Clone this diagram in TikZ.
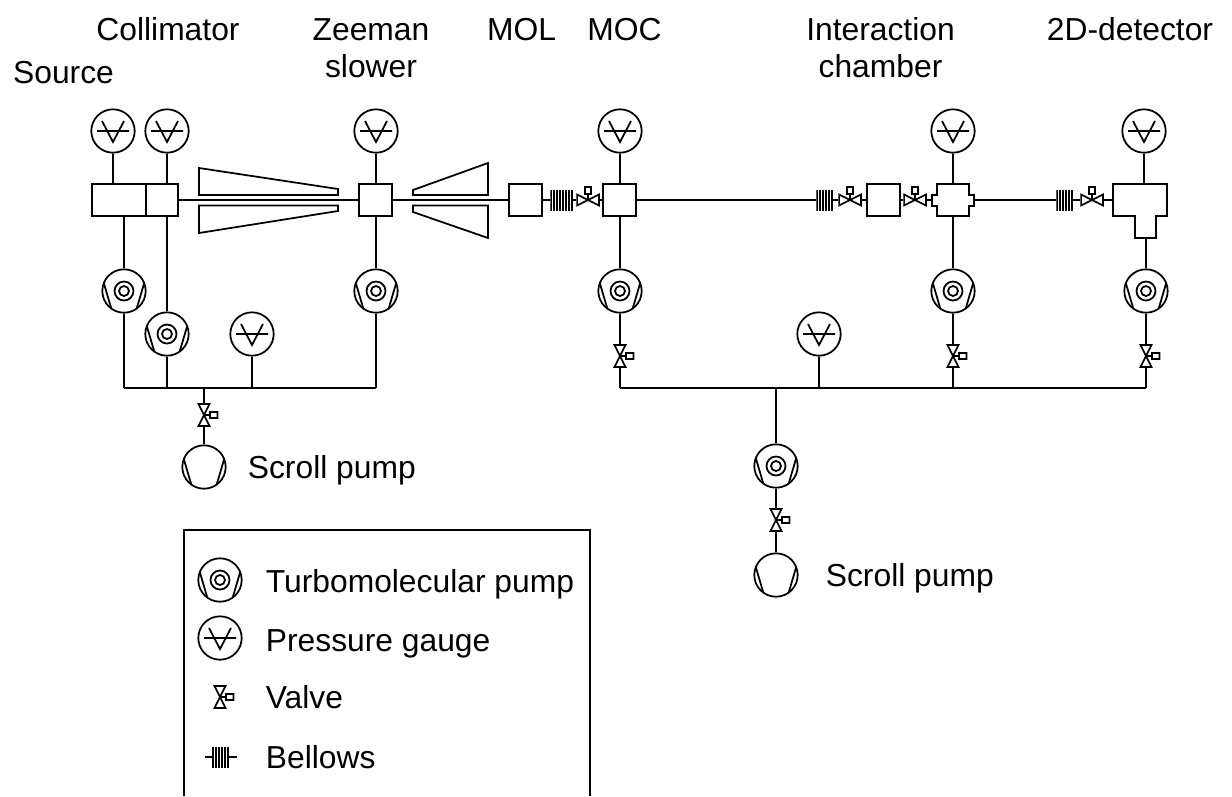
\documentclass[tikz,border=0pt]{standalone}
\usepackage{fontspec}
\setmainfont{Liberation Sans}
\usepackage{tikz}
\usetikzlibrary{calc}
\newcommand{\pumplines}{(-20.5,-9) -- (-12.7,17.5) (20.5,-9) -- (12.7,17.5)}
\tikzset{
	lbl/.style={inner sep=0pt,font=\fontsize{18.1}{21}\selectfont},
	chamberbox/.style={rectangle,draw,inner sep=0pt,minimum width=#1*0.02cm,minimum height=0.64cm},
	gauge/.style={circle,draw,inner sep=0pt,minimum size=0.868cm,
		path picture={\draw[shift={(path picture bounding box.center)}] (-16,0) -- (16,0) (-11,-10) -- (0,11) -- (11,-10);}},
	turbo/.style={circle,draw,inner sep=0pt,minimum size=0.868cm,
		path picture={\draw[shift={(path picture bounding box.center)}] \pumplines (0,0) circle (5) (0,0) circle (9.5);}},
	scroll/.style={circle,draw,inner sep=0pt,minimum size=0.868cm,
		path picture={\draw[shift={(path picture bounding box.center)}] \pumplines;}},
	valveh/.style={inner sep=0pt,outer sep=0pt,minimum width=0.47cm,minimum height=0.6cm,
		path picture={\draw[shift={(path picture bounding box.center)}] (-11,-5.5) -- (11,5.5) -- (11,-5.5) -- (-11,5.5) -- cycle (0,0) -- (0,-6) (-3,-6) rectangle (3,-13);}},
	valvev/.style={inner sep=0pt,outer sep=0pt,minimum width=0.6cm,minimum height=0.47cm,
		path picture={\draw[shift={(path picture bounding box.center)}] (-5.5,-11) -- (5.5,11) -- (-5.5,11) -- (5.5,-11) -- cycle (0,0) -- (6,0) (6,-3) rectangle (13.5,3);}},
	bellows/.style={inner sep=0pt,outer sep=0pt,minimum width={(#1*3-1)*0.02cm},minimum height=0.44cm,
		path picture={\foreach \i in {1,...,#1} \draw[line width=1pt,shift={(path picture bounding box.center)}] ({(\i-(#1+1)/2)*3},-10.5) -- ({(\i-(#1+1)/2)*3},10.5);}},
}
\begin{document}
\begin{tikzpicture}[x=0.02cm,y=-0.02cm,line width=1pt]
	\useasboundingbox (0,0) rectangle (1232,796);
	% beam line
	\node[chamberbox=54] (SRC) at (119,200) {};
	\node[chamberbox=32] (COL) at (162,200) {};
	\node[chamberbox=33] (ZEE) at (375.5,200) {};
	\node[chamberbox=33] (MOL) at (525.5,200) {};
	\node[chamberbox=33] (MOC) at (619.5,200) {};
	\node[chamberbox=33] (PRE) at (883.5,200) {};
	\node[bellows=8] (B1) at (561.75,200) {};
	\node[bellows=6] (B2) at (824.75,200) {};
	\node[bellows=6] (B3) at (1064.75,200) {};
	\node[valveh] (V1) at (588,200) {};
	\node[valveh] (V2) at (850,200) {};
	\node[valveh] (V3) at (915,200) {};
	\node[valveh] (V4) at (1092,200) {};
	\coordinate (CHw) at (932,200);
	\coordinate (CHe) at (974,200);
	\coordinate (CHn) at (953,184);
	\coordinate (CHs) at (953,216);
	\coordinate (DEw) at (1113,200);
	\coordinate (DEn) at (1144,184);
	\coordinate (DEs) at (1146,238);
	\draw (CHn) -| (969.3,195) -| (CHe) |- (969.3,206) |- (CHs) -| (936.7,206) -| (CHw) |- (936.7,195) |- cycle;
	\draw (DEw) |- (1167,184) |- (1156.3,216) |- (1134.7,238) |- (1113,216) -- cycle;
	\draw (199,168) -- (338,189) -- (338,195) -- (199,195) -- cycle;
	\draw (199,205.5) -- (338,205.5) -- (338,211) -- (199,233) -- cycle;
	\draw (413,190) -- (488,163) -- (488,195) -- (413,195) -- cycle;
	\draw (413,205.5) -- (488,205.5) -- (488,238) -- (413,212) -- cycle;
	\draw (COL) -- (ZEE);
	\draw (ZEE) -- (MOL);
	\draw (MOL) -- (B1);
	\draw (B1) -- (V1);
	\draw (V1) -- (MOC);
	\draw (MOC) -- (B2);
	\draw (B2) -- (V2);
	\draw (V2) -- (PRE);
	\draw (PRE) -- (V3);
	\draw (V3) -- (CHw);
	\draw (CHe) -- (B3);
	\draw (B3) -- (V4);
	\draw (V4) -- (DEw);
	% gauges on top
	\node[gauge] (G1) at (113,131) {};
	\node[gauge] (G2) at (167,131) {};
	\node[gauge] (G3) at (376,131) {};
	\node[gauge] (G4) at (620,131) {};
	\node[gauge] (G5) at (953,131) {};
	\node[gauge] (G6) at (1144,131) {};
	\draw (G1) -- (G1 |- SRC.north);
	\draw (G2) -- (G2 |- COL.north);
	\draw (G3) -- (G3 |- ZEE.north);
	\draw (G4) -- (G4 |- MOC.north);
	\draw (G5) -- (CHn);
	\draw (G6) -- (DEn);
	% left pumping line
	\node[turbo] (T1) at (124,291) {};
	\node[turbo] (T2) at (167,334) {};
	\node[turbo] (T3) at (376,291) {};
	\node[gauge] (G7) at (252,334) {};
	\node[valvev] (V5) at (204,415) {};
	\node[scroll] (S1) at (204,467) {};
	\coordinate (L1) at (124,388);
	\coordinate (L2) at (167,388);
	\coordinate (L3) at (204,388);
	\coordinate (L4) at (252,388);
	\coordinate (L5) at (376,388);
	\draw (L1) -- (L5);
	\draw (SRC.south -| T1) -- (T1);
	\draw (COL.south -| T2) -- (T2);
	\draw (ZEE.south -| T3) -- (T3);
	\draw (T1) -- (L1);
	\draw (T2) -- (L2);
	\draw (G7) -- (L4);
	\draw (T3) -- (L5);
	\draw (L3) -- (V5);
	\draw (V5) -- (S1);
	% right pumping line
	\node[turbo] (T4) at (620,291) {};
	\node[turbo] (T5) at (953,291) {};
	\node[turbo] (T6) at (1146,291) {};
	\node[gauge] (G8) at (819,334) {};
	\node[valvev] (V6) at (620,356) {};
	\node[valvev] (V7) at (953,356) {};
	\node[valvev] (V8) at (1146,356) {};
	\node[turbo] (T7) at (776,466) {};
	\node[valvev] (V9) at (776,520) {};
	\node[scroll] (S2) at (776,575) {};
	\coordinate (R1) at (620,388);
	\coordinate (R2) at (776,388);
	\coordinate (R3) at (819,388);
	\coordinate (R4) at (953,388);
	\coordinate (R5) at (1146,388);
	\draw (R1) -- (R5);
	\draw (MOC.south -| T4) -- (T4);
	\draw (CHs) -- (T5);
	\draw (DEs) -- (T6);
	\draw (T4) -- (V6);
	\draw (T5) -- (V7);
	\draw (T6) -- (V8);
	\draw (V6) -- (R1);
	\draw (V7) -- (R4);
	\draw (V8) -- (R5);
	\draw (G8) -- (R3);
	\draw (R2) -- (T7);
	\draw (T7) -- (V9);
	\draw (V9) -- (S2);
	% labels
	\node[lbl,anchor=base] (tSRC) at (63.5,83) {Source};
	\node[lbl,anchor=base] (tCOL) at (168,40) {Collimator};
	\node[lbl,align=center] (tZEE) at (371,48) {Zeeman\\slower};
	\node[lbl,anchor=base] (tMOL) at (521.5,40) {MOL};
	\node[lbl,anchor=base] (tMOC) at (624.5,40) {MOC};
	\node[lbl,align=center] (tINT) at (880.5,48) {Interaction\\chamber};
	\node[lbl,anchor=base] (tDET) at (1130,40) {2D-detector};
	\node[lbl,anchor=base west] (tS1) at (247,478) {Scroll pump};
	\node[lbl,anchor=base west] (tS2) at (825,586) {Scroll pump};
	% legend
	\coordinate (LGa) at (184,796);
	\coordinate (LGb) at (590,796);
	\draw (LGa) |- (LGb |- 0,530) -- (LGb);
	\node[turbo] (LT) at (220,580) {};
	\node[gauge] (LG) at (220,638) {};
	\node[valvev] (LV) at (220,697) {};
	\node[bellows=6] (LB) at (220.25,757) {};
	\coordinate (LBa) at (205,757);
	\coordinate (LBb) at (236.5,757);
	\draw (LBa) -- (LB);
	\draw (LB) -- (LBb);
	\node[lbl,anchor=base west] (tLT) at (265,592) {Turbomolecular pump};
	\node[lbl,anchor=base west] (tLG) at (265,651) {Pressure gauge};
	\node[lbl,anchor=base west] (tLV) at (265,708) {Valve};
	\node[lbl,anchor=base west] (tLB) at (265,768) {Bellows};
\end{tikzpicture}
\end{document}
